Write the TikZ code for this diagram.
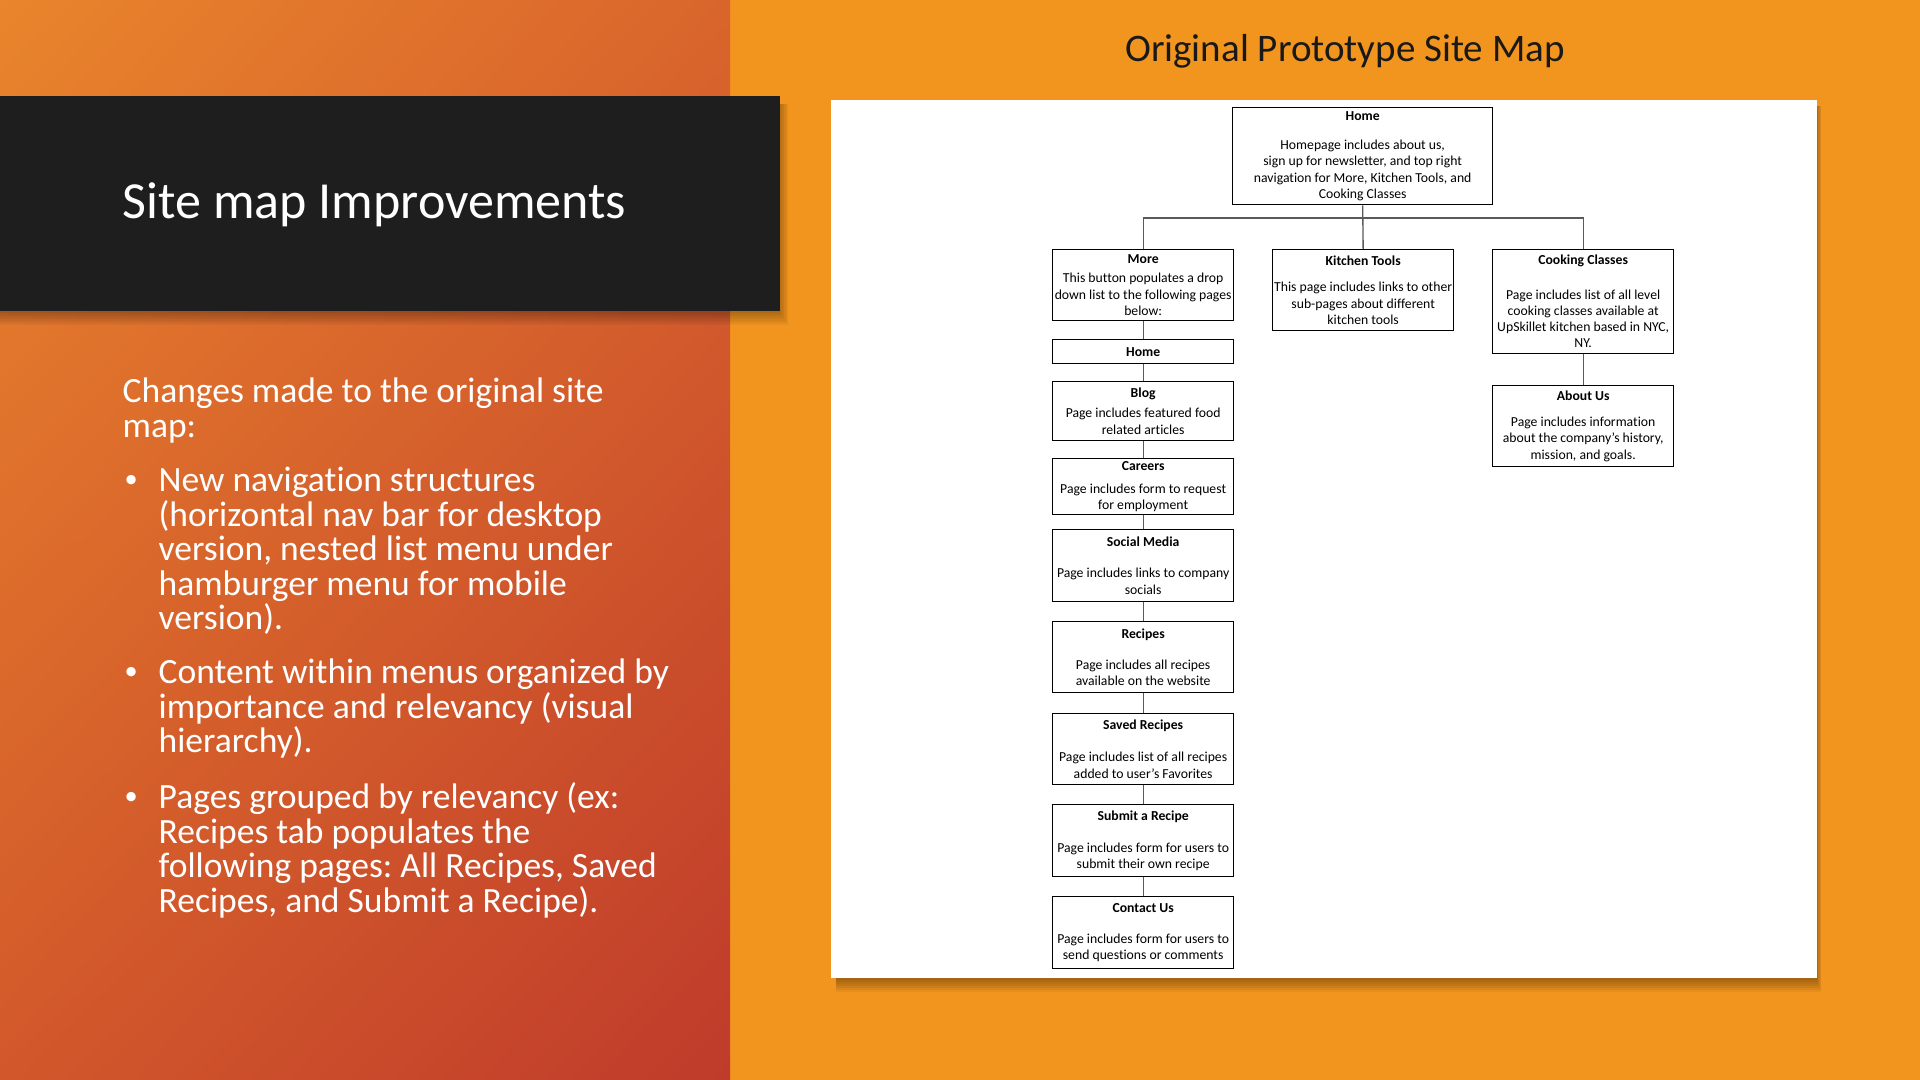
\documentclass[tikz,border=0pt]{standalone}
\usepackage{fontspec}
\setmainfont{Carlito}[Ligatures={NoCommon}]
\usetikzlibrary{shadings}
\definecolor{orangebg}{HTML}{F2951F}
\definecolor{darkbox}{HTML}{1E1E1E}
\definecolor{gUL}{HTML}{E9852C}
\definecolor{gUR}{HTML}{D9652C}
\definecolor{gLL}{HTML}{D2582B}
\definecolor{gLR}{HTML}{BF3B2B}
\definecolor{linegray}{HTML}{5A5A5A}
\newcommand\bxf{\fontsize{3.9}{4.64}\selectfont}
\newcommand\bodyf{\fontsize{10.1}{9.82}\selectfont\lineskiplimit=-100pt\lineskip=0pt}
\frenchspacing
\begin{document}
\begin{tikzpicture}[x=0.01cm,y=-0.01cm,
  pagebox/.style={draw=black, line width=0.35pt, fill=white, inner sep=0pt,
    anchor=north west, align=center, font=\bxf},
  conn/.style={draw=linegray, line width=0.38pt},
  bodytext/.style={anchor=north west, inner sep=0pt, text=white, align=left, font=\bodyf},
  bullet/.style={anchor=base west, inner sep=0pt, text=white, font=\fontsize{7.5}{8}\selectfont}]
\useasboundingbox (0,0) rectangle (1920,1080);
% backgrounds
\fill[orangebg] (0,0) rectangle (1920,1080);
\shade[upper left=gUL, upper right=gUR, lower left=gLL, lower right=gLR] (0,0) rectangle (730,1080);
% dark title box with shadow
\foreach \s in {0,2,...,12}{
  \fill[black, opacity=0.045] (0,104) rectangle (780+\s*0.7,313+\s);
}
\fill[darkbox] (0,96) rectangle (780,311);
\node[anchor=base west, inner sep=0pt, text=white, font=\fontsize{14.8}{17}\selectfont] (maintitle) at (122,219) {Site map Improvements};
% left text
\node[bodytext] (intro) at (122,366.5) {\rule{0pt}{10.1pt}Changes made to the original site\\map:};
\node[bullet] (b1) at (124,488) {•};
\node[bodytext] (p1) at (158,455.5) {\rule{0pt}{10.1pt}New navigation structures\\(horizontal nav bar for desktop\\version, nested list menu under\\hamburger menu for mobile\\version).};
\node[bullet] (b2) at (124,680) {•};
\node[bodytext] (p2) at (158,647.5) {\rule{0pt}{10.1pt}Content within menus organized by\\importance and relevancy (visual\\hierarchy).};
\node[bullet] (b3) at (124,805) {•};
\node[bodytext] (p3) at (158,772.5) {\rule{0pt}{10.1pt}Pages grouped by relevancy (ex:\\Recipes tab populates the\\following pages: All Recipes, Saved\\Recipes, and Submit a Recipe).};
% right title
\node[anchor=base, inner sep=0pt, text=black!90, font=\fontsize{11.1}{13}\selectfont] (sitetitle) at (1345,62) {Original Prototype Site Map};
% white panel with shadow
\foreach \s in {0,2,...,12}{
  \fill[black, opacity=0.05] (836,106) rectangle (1817+\s*0.35,980+\s);
}
\fill[white] (831,100) rectangle (1817,978);
% site map boxes
\node[pagebox, minimum width=2.60cm, minimum height=0.97cm] (home) at (1232,107)
  {\textbf{Home}\\[3.7pt]Homepage includes about us,\\sign up for newsletter, and top right\\navigation for More, Kitchen Tools, and\\Cooking Classes};
\node[pagebox, minimum width=1.81cm, minimum height=0.71cm] (more) at (1052,249)
  {\textbf{More}\\[0.85pt]This button populates a drop\\down list to the following pages\\below:};
\node[pagebox, minimum width=1.81cm, minimum height=0.81cm] (kt) at (1272,249)
  {\textbf{Kitchen Tools}\\[2.85pt]This page includes links to other\\sub-pages about different\\kitchen tools};
\node[pagebox, minimum width=1.81cm, minimum height=1.04cm] (cc) at (1492,249)
  {\textbf{Cooking Classes}\\[5.1pt]Page includes list of all level\\cooking classes available at\\UpSkillet kitchen based in NYC,\\NY.};
\node[pagebox, minimum width=1.81cm, minimum height=0.81cm] (about) at (1492,385)
  {\textbf{About Us}\\[2.85pt]Page includes information\\about the company’s history,\\mission, and goals.};
\node[pagebox, minimum width=1.81cm, minimum height=0.24cm] (home2) at (1052,339)
  {\textbf{Home}};
\node[pagebox, minimum width=1.81cm, minimum height=0.59cm] (blog) at (1052,381)
  {\textbf{Blog}\\[1.1pt]Page includes featured food\\related articles};
\node[pagebox, minimum width=1.81cm, minimum height=0.56cm] (careers) at (1052,458)
  {\textbf{Careers}\\[1.7pt]Page includes form to request\\for employment};
\node[pagebox, minimum width=1.81cm, minimum height=0.72cm] (social) at (1052,529)
  {\textbf{Social Media}\\[4.3pt]Page includes links to company\\socials};
\node[pagebox, minimum width=1.81cm, minimum height=0.71cm] (recipes) at (1052,621)
  {\textbf{Recipes}\\[4.3pt]Page includes all recipes\\available on the website};
\node[pagebox, minimum width=1.81cm, minimum height=0.71cm] (saved) at (1052,713)
  {\textbf{Saved Recipes}\\[4.55pt]Page includes list of all recipes\\added to user’s Favorites};
\node[pagebox, minimum width=1.81cm, minimum height=0.72cm] (submit) at (1052,804)
  {\textbf{Submit a Recipe}\\[4.55pt]Page includes form for users to\\submit their own recipe};
\node[pagebox, minimum width=1.81cm, minimum height=0.72cm] (contact) at (1052,896)
  {\textbf{Contact Us}\\[4.3pt]Page includes form for users to\\send questions or comments};
% connectors
\coordinate (hbar) at (1362,218);
\draw[conn] (home.south) -- (kt.north);
\draw[conn] (more.north) |- (hbar) -| (cc.north);
\draw[conn] (cc.south) -- (about.north);
\draw[conn] (more.south) -- (home2.north);
\draw[conn] (home2.south) -- (blog.north);
\draw[conn] (blog.south) -- (careers.north);
\draw[conn] (careers.south) -- (social.north);
\draw[conn] (social.south) -- (recipes.north);
\draw[conn] (recipes.south) -- (saved.north);
\draw[conn] (saved.south) -- (submit.north);
\draw[conn] (submit.south) -- (contact.north);
\end{tikzpicture}
\end{document}
